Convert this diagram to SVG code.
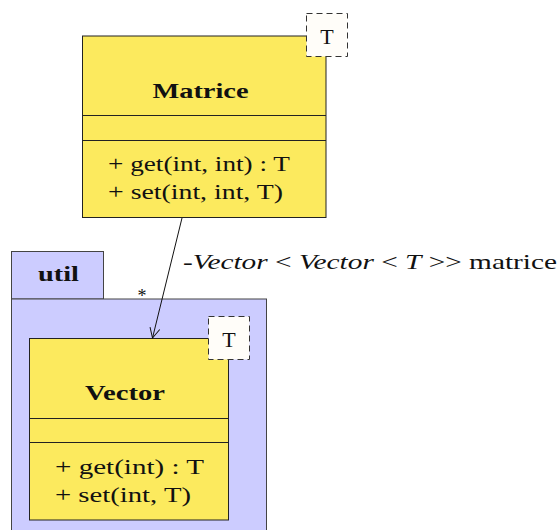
<svg xmlns="http://www.w3.org/2000/svg" width="560" height="530" viewBox="0 0 560 530">
<style>
text{font-family:"Liberation Serif","DejaVu Serif",serif;font-size:22px;fill:#111}
.cls{fill:#FCEA5E;stroke:#222;stroke-width:1}
.line{stroke:#222;stroke-width:1}
.pkg{fill:#CCCCFF;stroke:#444;stroke-width:1}
.tpl{fill:#FFFDF9;stroke:#333;stroke-width:1;stroke-dasharray:6,4}
.b{font-weight:bold}
.i{font-style:italic}
.conn{stroke:#111;stroke-width:1;fill:none}
</style>
<defs>
<marker id="open" viewBox="0 0 12 12" refX="11" refY="6" markerWidth="12" markerHeight="12" markerUnits="userSpaceOnUse" orient="auto">
<path d="M1,1 L11,6 L1,11" fill="none" stroke="#111" stroke-width="1"/>
</marker>
</defs>
<g id="util">
<rect class="pkg" x="11.5" y="251.5" width="92" height="47.5"/>
<rect class="pkg" x="11.5" y="299" width="255" height="240"/>
<text class="b" x="58.5" y="281" text-anchor="middle" textLength="41" lengthAdjust="spacingAndGlyphs">util</text>
</g>
<g id="Matrice">
<rect class="cls" x="82.5" y="36" width="243.5" height="181.5"/>
<line class="line" x1="82.5" y1="115.5" x2="326" y2="115.5"/>
<line class="line" x1="82.5" y1="140.5" x2="326" y2="140.5"/>
<text class="b" x="200.5" y="98" text-anchor="middle" textLength="96" lengthAdjust="spacingAndGlyphs">Matrice</text>
<text x="108" y="171" textLength="182" lengthAdjust="spacingAndGlyphs">+ get(int, int) : T</text>
<text x="108" y="199" textLength="175" lengthAdjust="spacingAndGlyphs">+ set(int, int, T)</text>
<rect class="tpl" x="306.5" y="13.5" width="41" height="43"/>
<text x="327" y="44" text-anchor="middle">T</text>
</g>
<g id="Vector">
<rect class="cls" x="29.5" y="338.5" width="199" height="181.5"/>
<line class="line" x1="29.5" y1="418.5" x2="228.5" y2="418.5"/>
<line class="line" x1="29.5" y1="442.5" x2="228.5" y2="442.5"/>
<text class="b" x="125" y="400" text-anchor="middle" textLength="80" lengthAdjust="spacingAndGlyphs">Vector</text>
<text x="55" y="474" textLength="149" lengthAdjust="spacingAndGlyphs">+ get(int) : T</text>
<text x="55" y="502" textLength="136" lengthAdjust="spacingAndGlyphs">+ set(int, T)</text>
<rect class="tpl" x="208.5" y="316.5" width="41" height="43"/>
<text x="229" y="347" text-anchor="middle">T</text>
</g>
<g id="connectors">
<line class="conn" x1="182" y1="218" x2="152.5" y2="338" marker-end="url(#open)"/>
<text x="183" y="269" textLength="374" lengthAdjust="spacingAndGlyphs">-<tspan class="i">Vector</tspan> &lt; <tspan class="i">Vector</tspan> &lt; <tspan class="i">T</tspan> &gt;&gt; matrice</text>
<text x="142" y="302" text-anchor="middle" style="font-size:18px">*</text>
</g>
</svg>
